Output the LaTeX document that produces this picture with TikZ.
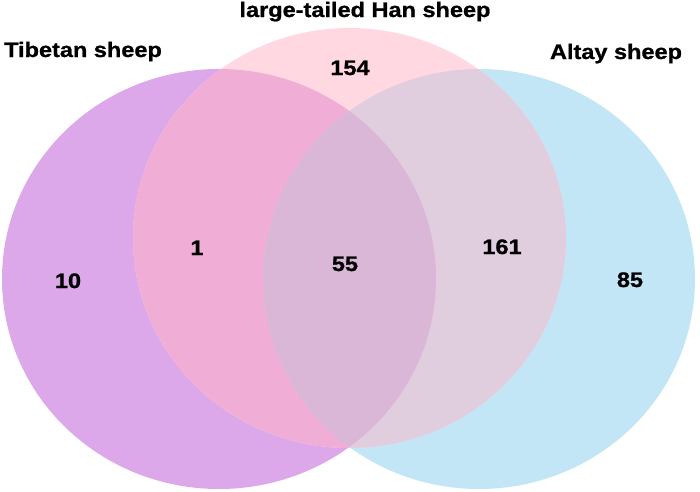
\documentclass[tikz,border=0pt]{standalone}
\usepackage{fontspec}
\setmainfont{Liberation Sans}[BoldFeatures={FakeStretch=1.12,FakeBold=1}]
\definecolor{tibC}{HTML}{DDA8EA}
\definecolor{hanC}{HTML}{FFD8E2}
\definecolor{altC}{HTML}{C2E6F5}
\definecolor{thC}{HTML}{F0AED6}
\definecolor{haC}{HTML}{E0CEDF}
\definecolor{allC}{HTML}{DAB6D7}
\begin{document}
\begin{tikzpicture}[x=1pt,y=-1pt,
  lbl/.style={font=\fontsize{21}{21}\selectfont\bfseries, anchor=base, inner sep=0pt}]
\useasboundingbox (0,0) rectangle (700,491);
\def\circTib{(219,279) ellipse [x radius=217, y radius=210]}
\def\circHan{(349.5,238) ellipse [x radius=216.5, y radius=210]}
\def\circAlt{(479,279) ellipse [x radius=216, y radius=210]}
\fill[tibC] \circTib;
\fill[altC] \circAlt;
\begin{scope}\clip \circTib; \fill[allC] \circAlt; \end{scope}
\fill[hanC] \circHan;
\begin{scope}\clip \circTib; \fill[thC] \circHan; \end{scope}
\begin{scope}\clip \circAlt; \fill[haC] \circHan; \end{scope}
\begin{scope}\clip \circTib; \clip \circAlt; \fill[allC] \circHan; \end{scope}
\node[lbl] (tTib) at (83,57) {Tibetan sheep};
\node[lbl] (tHan) at (365,17) {large-tailed Han sheep};
\node[lbl] (tAlt) at (616,59) {Altay sheep};
\node[lbl] (n154) at (350,75) {154};
\node[lbl] (n1) at (197,255) {1};
\node[lbl] (n55) at (345,271) {55};
\node[lbl] (n161) at (502,254) {161};
\node[lbl] (n10) at (68,288) {10};
\node[lbl] (n85) at (630,287) {85};
\end{tikzpicture}
\end{document}
